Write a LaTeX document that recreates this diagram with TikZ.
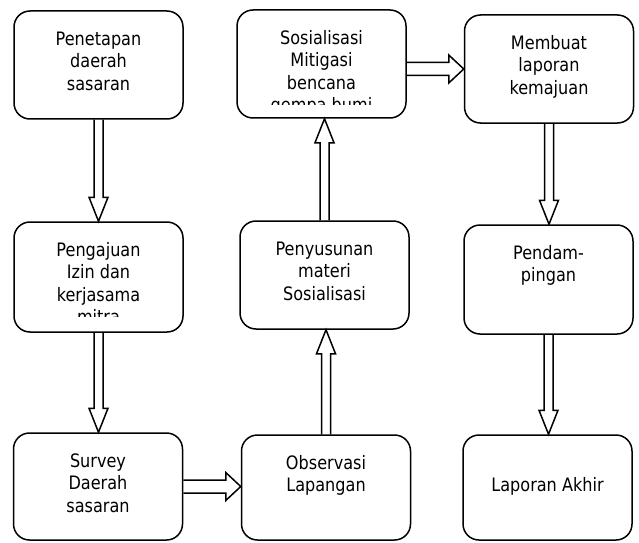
\documentclass[tikz,border=0pt]{standalone}
\usepackage{fontspec}
\setmainfont{DejaVu Sans}[FakeStretch=0.87]
\usetikzlibrary{calc}

\tikzset{
  stepbox/.style={rectangle, rounded corners=16pt, draw=black, line width=1.5pt,
    minimum width=169pt, minimum height=108pt, inner sep=0pt},
  steptext/.style={align=center, inner sep=0pt, anchor=north,
    font=\fontsize{18.5}{22.5}\selectfont},
  blockline/.style={draw=black, line width=1.5pt, line join=miter}
}

% text of a box: first baseline #1 below the top, cut 95pt below the top
\newcommand{\steplabel}[3][35]{%
  \begin{scope}
    \clip (#2.north west) rectangle ([yshift=-95pt]#2.north east);
    \node[steptext] (#2-text) at ([yshift={16pt-#1pt}]#2.north) {\rule{0pt}{16pt}#3};
  \end{scope}}

% hollow block arrow: from, to, half shaft, half head, head length
\newcommand{\blockarrow}[5]{%
  \coordinate (ah) at ($(#2)!#5!(#1)$);
  \draw[blockline] ($(#1)!#3!90:(#2)$) -- ($(ah)!#3!90:(#2)$) -- ($(ah)!#4!90:(#2)$)
    -- (#2) -- ($(ah)!#4!-90:(#2)$) -- ($(ah)!#3!-90:(#2)$) -- ($(#1)!#3!-90:(#2)$);}

\begin{document}
\begin{tikzpicture}[x=1pt, y=1pt]
    \useasboundingbox (0,0) rectangle (639,542);

    \node[stepbox] (penetapan) at (98.5, 477) {};
    \node[stepbox, minimum height=110pt] (pengajuan) at (98.5, 265) {};
    \node[stepbox, minimum height=107pt] (survey) at (98, 55.5) {};
    \node[stepbox, minimum height=105pt] (observasi) at (326, 54.5) {};
    \node[stepbox] (penyusunan) at (324.5, 267) {};
    \node[stepbox] (sosialisasi) at (321.5, 478) {};
    \node[stepbox] (laporan) at (549, 473) {};
    \node[stepbox, minimum height=109pt] (pendampingan) at (548.5, 262.5) {};
    \node[stepbox, minimum height=105pt] (akhir) at (547.5, 54.5) {};

    \steplabel{penetapan}{Penetapan\\daerah\\sasaran}
    \steplabel{pengajuan}{Pengajuan\\Izin dan\\kerjasama\\mitra}
    \steplabel{survey}{Survey\\Daerah\\sasaran}
    \steplabel{observasi}{Observasi\\Lapangan}
    \steplabel{penyusunan}{Penyusunan\\materi\\Sosialisasi}
    \steplabel{sosialisasi}{Sosialisasi\\Mitigasi\\bencana\\gempa bumi}
    \steplabel{laporan}{Membuat\\laporan\\kemajuan}
    \steplabel{pendampingan}{Pendam-\\pingan}
    \steplabel[57]{akhir}{Laporan Akhir}

    \coordinate (to-pengajuan) at (penetapan.south |- pengajuan.north);
    \coordinate (to-survey) at (pengajuan.south |- survey.north);
    \coordinate (to-observasi) at (survey.east -| observasi.west);
    \coordinate (to-penyusunan) at (observasi.north |- penyusunan.south);
    \coordinate (to-sosialisasi) at (penyusunan.north |- sosialisasi.south);
    \coordinate (from-sosialisasi) at (sosialisasi.east |- laporan.west);
    \coordinate (to-pendampingan) at (laporan.south |- pendampingan.north);
    \coordinate (to-akhir) at (pendampingan.south |- akhir.north);

    \blockarrow{penetapan.south}{to-pengajuan}{4.5pt}{9.5pt}{24pt}
    \blockarrow{pengajuan.south}{to-survey}{4.5pt}{9.5pt}{24pt}
    \blockarrow{survey.east}{to-observasi}{6.5pt}{14pt}{15pt}
    \blockarrow{observasi.north}{to-penyusunan}{4.5pt}{9.5pt}{24pt}
    \blockarrow{penyusunan.north}{to-sosialisasi}{4.5pt}{9.5pt}{24pt}
    \blockarrow{from-sosialisasi}{laporan.west}{6.5pt}{14pt}{15pt}
    \blockarrow{laporan.south}{to-pendampingan}{4.5pt}{9.5pt}{24pt}
    \blockarrow{pendampingan.south}{to-akhir}{4.5pt}{9.5pt}{24pt}
\end{tikzpicture}
\end{document}
